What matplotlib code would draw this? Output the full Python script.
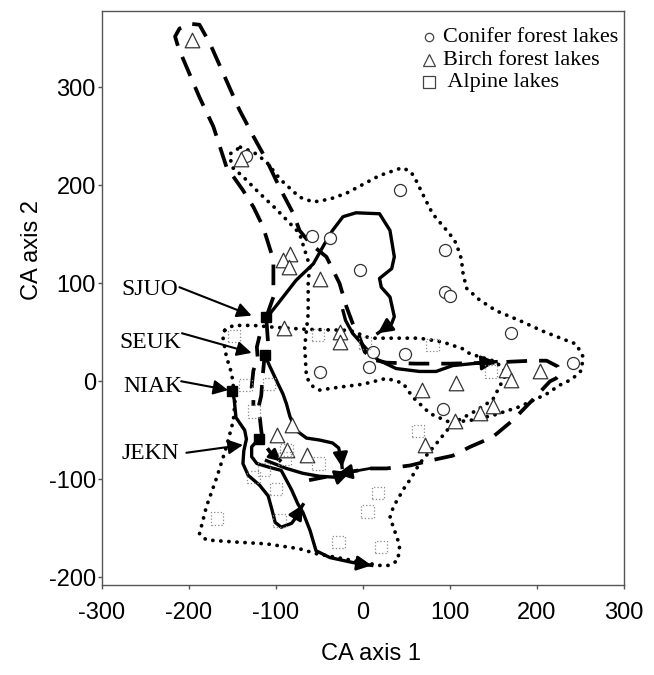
import matplotlib
matplotlib.use("Agg")
import matplotlib.pyplot as plt

plt.rcParams["axes.unicode_minus"] = False

# ---- lake scores on CA axes 1 and 2 ----
conifer_x = [-135, 43, -59, -38, -4, 94, 94, 100, 170, 12, 48, 7, 241, 92, -49]
conifer_y = [230, 195, 148, 146, 114, 134, 91, 87, 49, 30, 28, 15, 19, -28, 9]

birch_x = [-197, -140, -84, -92, -85, -50, -91, -26, -27, 164, 170, 204, 107, 68,
           149, 134, 106, 71, -99, -82, -87, -64]
birch_y = [348, 227, 130, 124, 117, 104, 54, 50, 40, 11, 1, 10, -2, -9,
           -25, -32, -41, -65, -55, -45, -70, -75]

alpine_x = [-148, -52, 2, 80, 147, 63, 17, 5, -28, 21, -135, -108, -125, -88, -90,
            -51, -114, -126, -100, -96, -168]
alpine_y = [46, 47, 39, 37, 10, -51, -114, -133, -164, -169, -4, -3, -31, -70, -79,
            -84, -90, -98, -110, -142, -140]

# ---- dotted envelopes ----
conifer_env_x = [-141, -126, -111, -95, -73, -57, -38, -19, 19, 45, 55, 61, 72, 80, 100,
                 107, 113, 115, 119, 134, 153, 180, 207, 230, 245, 253, 251, 240, 226,
                 211, 180, 149, 123, 100, 77, 57, 46, 27, 0, -27, -50, -57, -65, -67,
                 -63, -63, -61, -73, -100, -119, -138, -151, -153, -141]
conifer_env_y = [239, 234, 224, 206, 188, 183, 186, 192, 210, 218, 214, 205, 185, 171, 150,
                 141, 125, 110, 95, 83, 72, 62, 51, 43, 38, 25, 11, 2, -4,
                 -13, -26, -35, -40, -42, -33, -16, -2, 3, -3, -6, -9, -6, 4, 35,
                 69, 103, 117, 151, 176, 192, 209, 219, 232, 239]

alpine_env_x = [-159, -149, -126, -100, -65, -15, 8, 65, 92, 115, 123, 153, 165, 159, 149,
                130, 103, 84, 65, 54, 50, 35, 31, 40, 42, 40, 30, 19, -54, -73, -111,
                -149, -180, -188, -180, -168, -157, -149, -147, -151, -157, -161, -159]
alpine_env_y = [52, 57, 57, 55, 53, 52, 44, 44, 40, 33, 28, 20, 8, -2, -19,
                -30, -43, -64, -84, -101, -105, -128, -139, -162, -169, -183, -188, -188, -176, -171, -166,
                -164, -162, -156, -128, -98, -67, -40, -19, 8, 25, 45, 52]

# ---- trajectories ----
dash_loop_x = [-111, -103, -103, -115, -126, -138, -157, -172, -188, -200, -212, -216, -211,
               -199, -188, -176, -157, -142, -126, -111, -96, -80, -73, -60, -42, -27, -19,
               -11, -4, 2, 12, 27, 60, 100, 153, 170, 195, 211, 224, 227, 222, 215, 195,
               172, 149, 123, 103, 77, 54, 27, 8, -12, -30, -45, -62]
dash_loop_y = [66, 86, 124, 158, 178, 195, 219, 260, 290, 315, 340, 352, 360,
               365, 364, 345, 307, 277, 250, 226, 198, 171, 154, 140, 127, 100, 76,
               57, 45, 30, 22, 19, 18, 18, 19, 20, 21, 21, 15, 8, 3, 0, -19,
               -40, -57, -67, -76, -81, -86, -89, -89, -92, -95, -98, -101]

dash_a_x = [-111, -109, -113, -115, -117, -120, -117, -115, -107, -94]
dash_a_y = [62, 38, 27, 8, -15, -26, -50, -62, -72, -82]
dash_b_x = [-119, -122, -121, -126, -128, -126, -126]
dash_b_y = [46, 35, 23, 11, -6, -17, -25]

sjuo_x = [-111, -107, -98, -77, -57, -45, -35, -23, -8, 19, 31, 36, 33, 19, 21, 31, 36, 33, 17]
sjuo_y = [66, 69, 79, 103, 120, 139, 154, 168, 172, 171, 154, 127, 115, 105, 96, 86, 66, 59, 49]

seuk_x = [-113, -107, -98, -92, -88, -84, -77, -65, -50, -35, -28, -25, -24]
seuk_y = [27, 15, -2, -13, -23, -36, -50, -58, -60, -63, -68, -80, -88]

niak_x = [-150, -148, -146, -136, -134, -137, -138, -132, -119, -109, -105, -101, -94,
          -82, -77, -73, -69]
niak_y = [-10, -19, -37, -50, -59, -71, -84, -96, -106, -117, -130, -144, -149,
          -145, -139, -132, -126]

jekn_x = [-120, -128, -128, -122, -107, -94, -88, -82, -75, -69, -61, -54, -38, -12, 10]
jekn_y = [-59, -67, -77, -84, -88, -91, -101, -111, -125, -134, -152, -173, -180, -185, -188]
jekn2_x = [-111, -88, -69, -50, -31, -15]
jekn2_y = [-81, -89, -94, -97, -98, -93]

mid_x = [-23, -20, -12, 4, 17, 38, 65, 84, 103, 126, 153]
mid_y = [72, 62, 49, 33, 22, 13, 10, 10, 16, 18, 20]

lake_names = ["SJUO", "SEUK", "NIAK", "JEKN"]
lake_x = [-111, -113, -150, -120]
lake_y = [66, 27, -10, -59]
name_x = [-278, -280, -276, -278]
name_y = [94, 40, -5, -74]
pointer_x = [-211, -208, -209, -203]
pointer_y = [96, 49, 0, -73]
tip_x = [-128, -128, -155, -138]
tip_y = [67, 29, -9, -65]

# ----------------------------
fig = plt.figure(figsize=(6.54, 6.75), dpi=100)
ax = fig.add_axes([102 / 654, 90 / 675, 522 / 654, 574 / 675])

dot = dict(color="black", lw=2.7, linestyle=(0, (0.05, 2.1)), dash_capstyle="round")
ax.plot(conifer_env_x, conifer_env_y, **dot)
ax.plot(alpine_env_x, alpine_env_y, **dot)

dash = dict(color="black", lw=2.7, linestyle=(0, (5.5, 3.2)), dash_capstyle="butt")
ax.plot(dash_loop_x, dash_loop_y, **dash)
ax.plot(dash_a_x, dash_a_y, **dash)
ax.plot(dash_b_x, dash_b_y, **dash)

solid = dict(color="black", lw=2.4, solid_joinstyle="round")
for tx, ty in [(sjuo_x, sjuo_y), (seuk_x, seuk_y), (niak_x, niak_y),
               (jekn_x, jekn_y), (jekn2_x, jekn2_y), (mid_x, mid_y)]:
    ax.plot(tx, ty, **solid)
    ax.annotate("", xy=(tx[-1], ty[-1]), xytext=(tx[-2], ty[-2]),
                arrowprops=dict(arrowstyle="-|>", color="black", lw=2,
                                mutation_scale=22, shrinkA=0, shrinkB=0))

# arrows on the dashed paths
ax.annotate("", xy=(dash_loop_x[52], dash_loop_y[52]), xytext=(dash_loop_x[50], dash_loop_y[50]),
            arrowprops=dict(arrowstyle="-|>", color="black", lw=2,
                            mutation_scale=22, shrinkA=0, shrinkB=0))
ax.annotate("", xy=(dash_a_x[-1], dash_a_y[-1]), xytext=(dash_a_x[-2], dash_a_y[-2]),
            arrowprops=dict(arrowstyle="-|>", color="black", lw=2,
                            mutation_scale=18, shrinkA=0, shrinkB=0))

# lake points
ax.scatter(conifer_x, conifer_y, s=75, marker="o", facecolors="white",
           edgecolors="#333333", linewidths=0.9, zorder=3)
ax.scatter(birch_x, birch_y, s=110, marker="^", facecolors="white",
           edgecolors="#333333", linewidths=0.9, zorder=3)
ax.scatter(alpine_x, alpine_y, s=80, marker="s", facecolors="none",
           edgecolors="#8a8a8a", linewidths=0.9, linestyles=":", zorder=3)

# highlighted lakes
ax.plot(lake_x, lake_y, "s", color="black", ms=7, zorder=4)
for i, name in enumerate(lake_names):
    ax.text(name_x[i], name_y[i], name, fontsize=17, family="Liberation Serif",
            ha="left", va="center")
    ax.annotate("", xy=(tip_x[i], tip_y[i]), xytext=(pointer_x[i], pointer_y[i]),
                arrowprops=dict(arrowstyle="-|>", color="black", lw=1.5,
                                mutation_scale=22, shrinkA=0, shrinkB=0))

# legend drawn by hand
leg_marker = ["o", "^", "s"]
leg_ms = [6, 9, 8]
leg_text = ["Conifer forest lakes", "Birch forest lakes", " Alpine lakes"]
leg_y = [0.9547, 0.9146, 0.8763]
for m, ms, t, yy in zip(leg_marker, leg_ms, leg_text, leg_y):
    ax.plot(0.6265, yy, m, ms=ms, mfc="white", mec="#444444", mew=0.9,
            transform=ax.transAxes)
    ax.text(0.6533, yy, t, fontsize=16, family="Liberation Serif",
            transform=ax.transAxes, ha="left", va="center")

ax.set_xlim(-300, 300)
ax.set_ylim(-208, 378)
ax.set_xticks([-300, -200, -100, 0, 100, 200, 300])
ax.set_yticks([-200, -100, 0, 100, 200, 300])
ax.tick_params(direction="out", length=3, width=1, color="#555555",
               labelsize=17, pad=9)
ax.tick_params(axis="y", pad=1.5)
for lab in ax.get_xticklabels() + ax.get_yticklabels():
    lab.set_family("Liberation Sans")
for sp in ax.spines.values():
    sp.set_color("#555555")
    sp.set_linewidth(1)

ax.set_xlabel("CA axis 1", fontsize=17, family="Liberation Sans")
ax.set_ylabel("CA axis 2", fontsize=17, family="Liberation Sans")
ax.xaxis.set_label_coords(0.515, -0.101)
ax.yaxis.set_label_coords(-0.113, 0.584)

fig.savefig("out.png", dpi=100)
